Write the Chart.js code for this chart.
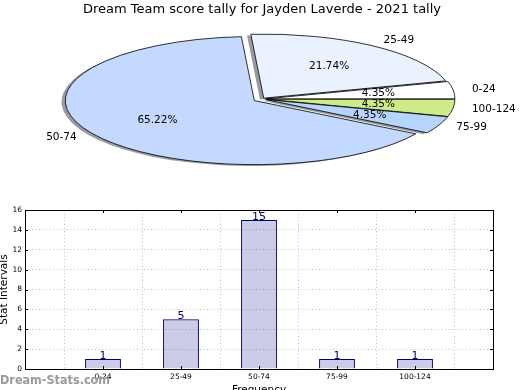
<!DOCTYPE html>
<html>
<head>
<meta charset="utf-8">
<script src="https://cdn.jsdelivr.net/npm/chart.js@4.4.0/dist/chart.umd.min.js"></script>
<style>
  body { margin: 0; background: #fff; }
  #wrap { position: relative; width: 520px; height: 390px; overflow: hidden; }
  #pieBox { position: absolute; left: 0; top: 0; width: 520px; height: 200px; }
  #barBox { position: absolute; left: 0; top: 200px; width: 520px; height: 190px; }
  #mark { position: absolute; left: 0; top: 372px; font: bold 12.5px 'DejaVu Sans'; font-stretch: condensed; color: #999; }
</style>
</head>
<body>
<div id="wrap">
  <div id="pieBox"><canvas id="pieChart"></canvas></div>
  <div id="barBox"><canvas id="barChart"></canvas></div>
  <div id="mark">Dream-Stats.com</div>
</div>
<script>
const scoreRanges = ['0-24', '25-49', '50-74', '75-99', '100-124'];
const tallyCounts = [1, 5, 15, 1, 1];
const yTickValues = [0, 2, 4, 6, 8, 10, 12, 14, 16];

// pie look
const sliceColors = ['#ffffff', '#eaf2ff', '#c4d9ff', '#b5d5ff', '#cdeb8b'];
const explodePx = [4, 3, 9, 4, 4];
const pieCenterY = 99;
const pieSquash = 0.339;

const total = tallyCounts.reduce((a, b) => a + b, 0);

Chart.defaults.font.family = "'DejaVu Sans', sans-serif";
Chart.defaults.color = '#000';

// matplotlib draws counter-clockwise, Chart.js clockwise, so feed it reversed
const pieLabels = scoreRanges.slice().reverse();
const pieCounts = tallyCounts.slice().reverse();
const pieColors = sliceColors.slice().reverse();
const pieExplode = explodePx.slice().reverse();

const ellipsePie = {
  id: 'ellipsePie',
  beforeDatasetsDraw(chart) {
    const ctx = chart.ctx;
    const arcs = chart.getDatasetMeta(0).data;
    const shifted = arcs.map((a, i) => {
      const mid = (a.startAngle + a.endAngle) / 2;
      const d = pieExplode[i];
      return { a, mid, d, x: a.x + Math.cos(mid) * d, y: pieCenterY + Math.sin(mid) * d * pieSquash };
    });
    const wedge = s => {
      ctx.moveTo(s.x, s.y);
      ctx.ellipse(s.x, s.y, s.a.outerRadius, s.a.outerRadius * pieSquash, 0, s.a.startAngle, s.a.endAngle);
      ctx.closePath();
    };
    ctx.save();
    // shadow
    ctx.save();
    ctx.translate(-3.8, 1.3);
    ctx.beginPath();
    shifted.forEach(wedge);
    ctx.fillStyle = 'rgba(50,55,65,0.5)';
    ctx.fill();
    ctx.restore();
    // wedges
    shifted.forEach(s => {
      ctx.beginPath();
      wedge(s);
      ctx.fillStyle = s.a.options.backgroundColor;
      ctx.fill();
      ctx.lineWidth = 0.8;
      ctx.strokeStyle = '#000';
      ctx.stroke();
    });
    // labels
    ctx.font = "10.5px 'DejaVu Sans'";
    ctx.fillStyle = '#000';
    ctx.textBaseline = 'middle';
    shifted.forEach((s, i) => {
      const r = s.a.outerRadius;
      const c = Math.cos(s.mid), sn = Math.sin(s.mid);
      const lr = 1.1 * r + s.d;
      ctx.textAlign = c > 0 ? 'left' : 'right';
      ctx.fillText(pieLabels[i], s.a.x + c * lr, pieCenterY + sn * lr * pieSquash);
      const pr = 0.6 * r + s.d;
      ctx.textAlign = 'center';
      ctx.fillText((pieCounts[i] / total * 100).toFixed(2) + '%', s.a.x + c * pr, pieCenterY + sn * pr * pieSquash);
    });
    ctx.restore();
    return false;
  }
};

new Chart(document.getElementById('pieChart'), {
  type: 'pie',
  data: {
    labels: pieLabels,
    datasets: [{ data: pieCounts, backgroundColor: pieColors, borderWidth: 0 }]
  },
  options: {
    responsive: true,
    maintainAspectRatio: false,
    animation: false,
    events: [],
    radius: 189,
    rotation: 90,
    layout: { padding: { left: 4 } },
    plugins: {
      legend: { display: false },
      tooltip: { enabled: false },
      title: {
        display: true,
        text: 'Dream Team score tally for Jayden Laverde - 2021 tally',
        font: { size: 13, weight: 'normal' },
        color: '#000',
        padding: { top: 2, bottom: 4 }
      }
    }
  },
  plugins: [ellipsePie]
});

const barBoxAndLabels = {
  id: 'barBoxAndLabels',
  afterDatasetsDraw(chart) {
    const ctx = chart.ctx;
    const meta = chart.getDatasetMeta(0);
    ctx.save();
    ctx.font = "11px 'DejaVu Sans'";
    ctx.fillStyle = '#000080';
    ctx.textAlign = 'center';
    ctx.textBaseline = 'alphabetic';
    meta.data.forEach((bar, i) => {
      const v = chart.data.datasets[0].data[i];
      if (v == null) return;
      ctx.fillText(String(v), bar.x, bar.y);
    });
    ctx.restore();
  },
  afterDraw(chart) {
    const ctx = chart.ctx;
    const a = chart.chartArea;
    const xs = chart.scales.x, ys = chart.scales.y;
    ctx.save();
    ctx.strokeStyle = '#000';
    ctx.lineWidth = 1;
    ctx.beginPath();
    yTickValues.forEach(v => {
      const y = Math.round(ys.getPixelForValue(v)) + 0.5;
      ctx.moveTo(a.left, y); ctx.lineTo(a.left + 3, y);
      ctx.moveTo(a.right, y); ctx.lineTo(a.right - 3, y);
    });
    scoreRanges.forEach(lab => {
      const x = Math.round(xs.getPixelForValue(chart.data.labels.indexOf(lab))) + 0.5;
      ctx.moveTo(x, a.bottom); ctx.lineTo(x, a.bottom - 3);
      ctx.moveTo(x, a.top); ctx.lineTo(x, a.top + 3);
    });
    ctx.stroke();
    ctx.strokeRect(Math.round(a.left) + 0.5, Math.round(a.top) + 0.5,
      Math.round(a.right - a.left), Math.round(a.bottom - a.top));
    ctx.restore();
  }
};

new Chart(document.getElementById('barChart'), {
  type: 'bar',
  data: {
    labels: ['', ...scoreRanges, ''],
    datasets: [{
      data: [null, ...tallyCounts, null],
      backgroundColor: 'rgba(0,0,128,0.2)',
      borderColor: '#000080',
      borderWidth: 1,
      barPercentage: 0.46,
      categoryPercentage: 1
    }]
  },
  options: {
    responsive: true,
    maintainAspectRatio: false,
    animation: false,
    events: [],
    layout: { padding: { left: 0, top: 10, right: 27, bottom: 0 } },
    plugins: { legend: { display: false }, tooltip: { enabled: false } },
    scales: {
      x: {
        offset: false,
        grid: { color: '#c0c0c0', drawTicks: false },
        border: { display: false, dash: [1, 2.5] },
        ticks: { font: { size: 7.5 }, padding: 4, maxRotation: 0, autoSkip: false },
        title: { display: true, text: 'Frequency', font: { size: 10.5 }, padding: { top: 0, bottom: -7 } },
        afterFit(scale) { scale.height = 21; }
      },
      y: {
        min: 0,
        max: 16,
        grid: { color: '#c0c0c0', drawTicks: false },
        border: { display: false, dash: [1, 2.5] },
        ticks: { font: { size: 7.5 }, padding: 3 },
        afterBuildTicks(scale) { scale.ticks = yTickValues.map(v => ({ value: v })); },
        title: { display: true, text: 'Stat Intervals', font: { size: 10.5 }, padding: { top: -2, bottom: 0 } },
        afterFit(scale) { scale.width = 25; }
      }
    }
  },
  plugins: [barBoxAndLabels]
});
</script>
</body>
</html>
